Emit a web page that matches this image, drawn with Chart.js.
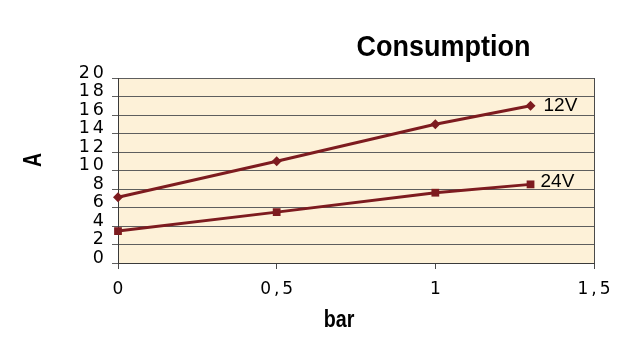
<!DOCTYPE html>
<html><head><meta charset="utf-8">
<script src="https://cdn.jsdelivr.net/npm/chart.js@4/dist/chart.umd.min.js"></script>
<style>html,body{margin:0;padding:0;background:#fff;}#wrap{width:636px;height:356px;}</style>
</head><body><div id="wrap"><canvas id="c" width="636" height="356"></canvas></div>
<script>
const chartTitle = 'Consumption';
const xAxisTitle = 'bar';
const yAxisTitle = 'A';
const seriesNames = ['12V', '24V'];
const pressures = [0, 0.5, 1, 1.3];
const series12V = [7.1, 11, 15, 17];
const series24V = [3.45, 5.5, 7.6, 8.5];
const xTickValues = [0, 0.5, 1, 1.5];
const xTickLabels = ['0', '0,5', '1', '1,5'];
const yTickLabels = ['0', '2', '4', '6', '8', '10', '12', '14', '16', '18', '20'];

const lineColor = '#7d1b1f';
const plotBg = '#fdf1d8';
const gridColor = '#5e5e5e';

const toPoints = arr => pressures.map((x, i) => ({x: x, y: arr[i]}));

function condensedText(ctx, text, x, y, font, sx, angle) {
  ctx.save();
  ctx.translate(x, y);
  if (angle) ctx.rotate(angle);
  ctx.scale(sx, 1);
  ctx.font = font;
  ctx.fillText(text, 0, 0);
  ctx.restore();
}

const decor = {
  id: 'decor',
  beforeDraw(chart) {
    const {ctx, chartArea: a} = chart;
    ctx.save();
    ctx.fillStyle = plotBg;
    ctx.fillRect(a.left, a.top, a.right - a.left, a.bottom - a.top);
    ctx.restore();
    ctx.letterSpacing = '3px';
  },
  beforeDatasetsDraw(chart) {
    chart.ctx.letterSpacing = '0px';
  },
  afterDraw(chart) {
    const ctx = chart.ctx;
    ctx.letterSpacing = '0px';
    ctx.save();
    ctx.fillStyle = '#000';
    ctx.textAlign = 'center';
    ctx.textBaseline = 'alphabetic';
    condensedText(ctx, chartTitle, 443.5, 56, 'bold 29px "Liberation Sans", Arial, sans-serif', 0.93, 0);
    ctx.textBaseline = 'middle';
    condensedText(ctx, xAxisTitle, 339, 320, 'bold 24px "Liberation Sans", Arial, sans-serif', 0.82, 0);
    condensedText(ctx, yAxisTitle, 34.5, 160, 'bold 25px "Liberation Sans", Arial, sans-serif', 0.78, -Math.PI / 2);
    // series labels
    ctx.font = '19px "Liberation Sans", Arial, sans-serif';
    ctx.textAlign = 'left';
    const offs = [[13, 0], [10, -3]];
    chart.data.datasets.forEach((ds, i) => {
      const meta = chart.getDatasetMeta(i);
      const p = meta.data[meta.data.length - 1];
      ctx.fillText(seriesNames[i], p.x + offs[i][0], p.y + offs[i][1]);
    });
    ctx.restore();
  }
};

new Chart(document.getElementById('c'), {
  type: 'line',
  data: {
    datasets: [
      {label: seriesNames[0], data: toPoints(series12V), borderColor: lineColor, backgroundColor: lineColor,
       borderWidth: 3, pointStyle: 'rectRot', pointRadius: 5, pointBorderWidth: 0, pointBackgroundColor: lineColor, clip: false},
      {label: seriesNames[1], data: toPoints(series24V), borderColor: lineColor, backgroundColor: lineColor,
       borderWidth: 3, pointStyle: 'rect', pointRadius: 5.5, pointBorderWidth: 0, pointBackgroundColor: lineColor, clip: false}
    ]
  },
  options: {
    responsive: false,
    animation: false,
    devicePixelRatio: 1,
    layout: {padding: {left: 0, top: 78, right: 42, bottom: 0}},
    plugins: {legend: {display: false}, tooltip: {enabled: false}, title: {display: false}},
    elements: {line: {tension: 0}},
    scales: {
      x: {
        type: 'linear', min: 0, max: 1.5,
        afterBuildTicks: s => { s.ticks = xTickValues.map(v => ({value: v})); },
        afterFit: s => { s.height = 93; },
        ticks: {
          autoSkip: false, maxRotation: 0, padding: 10, labelOffset: 1.5, color: '#000',
          font: {family: '"DejaVu Sans", sans-serif', size: 17},
          callback: (v, i) => xTickLabels[i]
        },
        grid: {
          drawOnChartArea: true, tickLength: 6, lineWidth: 1,
          color: c => (c.tick && c.tick.value === 1.5) ? '#4a4a4a' : 'rgba(0,0,0,0)',
          tickColor: '#4a4a4a'
        },
        border: {display: true, color: '#3a3a3a', width: 1}
      },
      y: {
        type: 'linear', min: 0, max: 20,
        afterFit: s => { s.width = 118; },
        ticks: {
          stepSize: 2, autoSkip: false, padding: 5, labelOffset: -5, color: '#000',
          font: {family: '"DejaVu Sans", sans-serif', size: 17.5},
          callback: (v, i) => yTickLabels[i]
        },
        grid: {color: gridColor, tickColor: gridColor, tickLength: 6, lineWidth: 1},
        border: {display: true, color: '#3a3a3a', width: 1}
      }
    }
  },
  plugins: [decor]
});
</script>
</body></html>
